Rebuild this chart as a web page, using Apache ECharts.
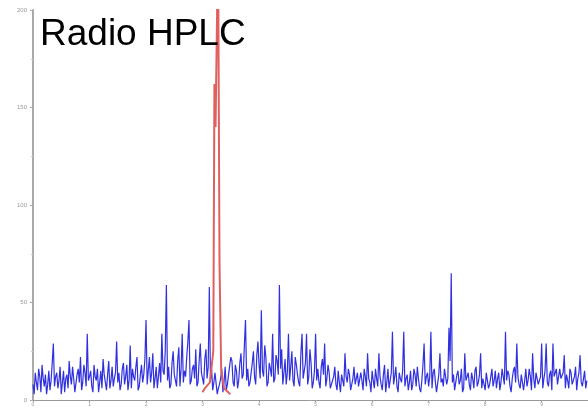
<!DOCTYPE html>
<html>
<head>
<meta charset="utf-8">
<script src="https://cdn.jsdelivr.net/npm/echarts@6/dist/echarts.min.js"></script>
<style>html,body{margin:0;padding:0;background:#fff;}#c{width:588px;height:410px;}</style>
</head>
<body>
<div id="c"></div>
<script>
// Blue trace: main samples every 0.04 time units starting at 0,
// plus the samples lying halfway between them
const sampleStep = 0.04;
const blueCounts = [
  8,14,5,12,18,7,3,15,10,29,12,6,17,9,4,13,20,8,11,5,16,22,9,14,34,
  12,7,18,10,4,15,21,9,13,6,17,11,30,14,8,19,12,5,28,16,10,22,7,18,13,
  41,15,9,24,11,6,19,34,13,59,17,8,25,12,20,7,34,15,22,41,10,18,26,9,29,
  14,21,11,58,16,9,13,6,11,4,17,8,12,20,7,15,10,24,13,41,16,9,19,12,23,
  18,46,12,22,9,16,34,11,20,59,26,14,8,34,17,10,22,13,7,34,15,34,12,19,9,
  34,16,6,21,29,11,14,5,12,8,15,4,10,24,9,13,6,17,11,7,14,5,12,24,9,
  15,6,11,24,8,13,4,16,10,35,12,7,14,9,35,11,5,15,8,13,17,6,10,29,12,
  7,35,14,9,5,24,11,16,8,37,65,13,6,15,10,4,24,12,8,14,6,17,9,24,11,
  5,13,8,16,10,6,14,9,12,35,15,7,11,17,29,8,13,5,16,10,12,24,6,14,9,
  29,11,29,7,15,29,12,8,16,10,23,13,6,14,9,17,11,23,7,15,10
];
const blueMidCounts = [
  3,9,16,4,11,13,8,5,19,7,14,10,3,15,11,6,12,17,4,13,9,5,18,7,10,
  15,4,12,16,9,6,13,5,20,10,7,14,9,5,16,8,18,10,6,12,17,5,13,9,21,
  8,22,14,6,17,12,9,15,25,10,6,19,13,7,27,16,9,12,30,8,16,11,7,20,14,
  8,26,17,10,5,14,3,8,16,9,5,13,22,9,18,6,19,11,28,10,7,14,25,8,30,
  11,15,28,7,19,12,9,23,13,16,8,21,14,10,25,7,18,9,24,11,19,8,26,6,15,
  10,9,17,13,7,18,6,10,17,5,9,13,7,12,16,5,11,8,14,6,10,16,7,11,4,
  10,16,7,12,5,18,9,6,14,8,17,4,11,15,7,13,9,5,16,7,11,4,18,8,14,
  12,6,16,4,13,9,7,15,11,20,9,5,13,8,16,6,10,14,5,11,15,7,13,6,10,
  14,6,12,7,15,11,5,16,8,10,13,4,15,9,12,6,14,10,7,16,5,11,14,8,12,
  6,15,9,13,5,12,16,7,11,14,6,10,16,8,12,5,14,9,11,6
];
// Red peak trace
const redTimes  = [3.00, 3.04, 3.13, 3.19, 3.21, 3.23, 3.26, 3.28, 3.30, 3.33, 3.38, 3.49];
const redCounts = [4,    6,    9,    25,   162,  140,  205,  200,  70,   15,   6,    3];
// Axis ticks
const yTicks = [0, 50, 100, 150, 200];
const xTicks = [0,1,2,3,4,5,6,7,8,9];

const blueData = [];
blueCounts.forEach((v, i) => {
  blueData.push([+(i * sampleStep).toFixed(3), v]);
  if (i < blueMidCounts.length) blueData.push([+((i + 0.5) * sampleStep).toFixed(3), blueMidCounts[i]]);
});
const redData = redTimes.map((t, i) => [t, redCounts[i]]);

const chart = echarts.init(document.getElementById('c'), null, {renderer: 'canvas'});
chart.setOption({
  animation: false,
  backgroundColor: '#fff',
  title: {
    text: 'Radio HPLC',
    left: 35, top: 11,
    textStyle: {fontFamily: 'Liberation Sans, Arial, sans-serif', fontSize: 37, fontWeight: 'normal', color: '#000'}
  },
  grid: {left: 33, right: 0, top: 10, bottom: 10, containLabel: false},
  xAxis: {
    type: 'value', min: 0, max: 9.82, interval: 1,
    axisLine: {show: true, lineStyle: {color: '#999', width: 1}},
    axisTick: {show: true, length: 2, lineStyle: {color: '#999'}},
    axisLabel: {fontSize: 5, color: '#999', margin: 2, showMaxLabel: false,
      formatter: v => xTicks.includes(v) ? String(v) : ''},
    splitLine: {show: false}
  },
  yAxis: {
    type: 'value', min: 0, max: 200, interval: 50, offset: 4,
    axisLine: {show: true, lineStyle: {color: '#aaa', width: 2}},
    axisTick: {show: true, length: 3, lineStyle: {color: '#aaa'}},
    minorTick: {show: true, splitNumber: 2, length: 2, lineStyle: {color: '#ccc'}},
    axisLabel: {fontSize: 6, color: '#999', margin: 2,
      formatter: v => yTicks.includes(v) ? String(v) : ''},
    splitLine: {show: false}
  },
  series: [
    {
      type: 'line', data: blueData, symbol: 'none', z: 2,
      lineStyle: {color: '#3030e0', width: 1.2}
    },
    {
      type: 'line', data: redData, symbol: 'none', z: 3, clip: true,
      lineStyle: {color: '#e06060', width: 2}
    }
  ]
});
</script>
</body>
</html>
